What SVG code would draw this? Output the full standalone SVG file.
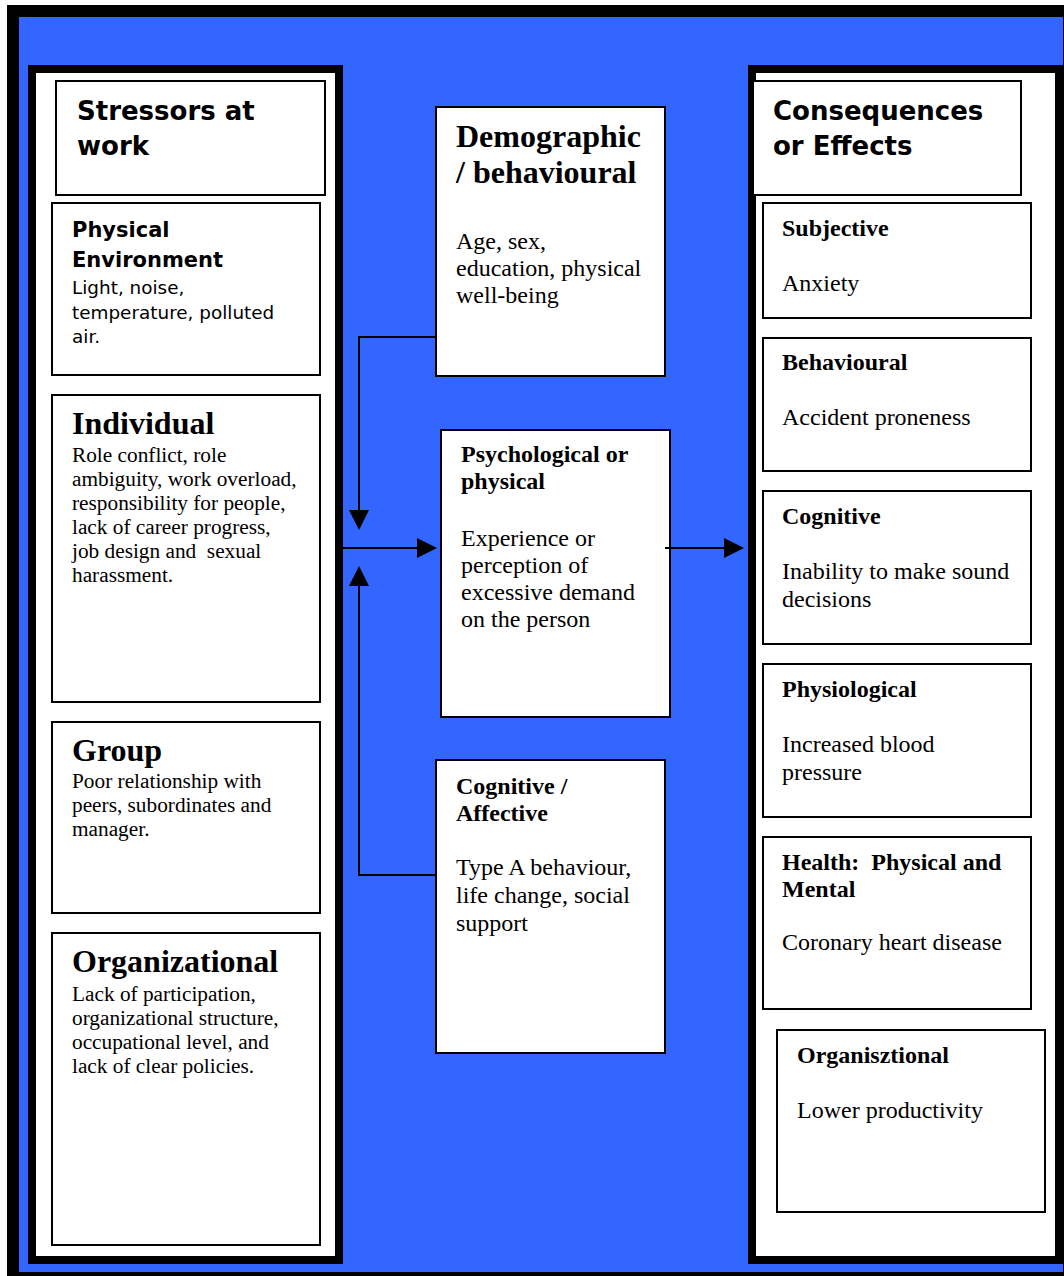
<svg xmlns="http://www.w3.org/2000/svg" width="1064" height="1276" viewBox="0 0 1064 1276">
<style>
.panel{fill:#fff;stroke:#000;stroke-width:8}
.box{fill:#fff;stroke:#000;stroke-width:2}
.sh{font-family:"DejaVu Sans",Verdana,sans-serif;font-weight:bold;font-size:26px;fill:#000}
.sh2{font-family:"DejaVu Sans",Verdana,sans-serif;font-weight:bold;font-size:21px;fill:#000}
.sb{font-family:"DejaVu Sans",Verdana,sans-serif;font-size:18.4px;fill:#000}
.h32{font-family:"Liberation Serif","Times New Roman",serif;font-weight:bold;font-size:32px;fill:#000}
.h24{font-family:"Liberation Serif","Times New Roman",serif;font-weight:bold;font-size:24px;fill:#000}
.b21{font-family:"Liberation Serif","Times New Roman",serif;font-size:21.3px;fill:#000}
.b24{font-family:"Liberation Serif","Times New Roman",serif;font-size:24px;fill:#000}
.conn{fill:none;stroke:#000;stroke-width:2}
</style>
<defs>
<marker id="arr" viewBox="0 0 20 20" refX="18" refY="10" markerWidth="20" markerHeight="20" markerUnits="userSpaceOnUse" orient="auto">
<path d="M0,0 L20,10 L0,20 z" fill="#000"/>
</marker>
</defs>
<rect x="7" y="5" width="1060" height="1275" fill="#000"/>
<rect x="19" y="17" width="1044" height="1255" fill="#3366FF"/>
<g id="left-panel">
<rect class="panel" x="32" y="69" width="307" height="1191"/>
</g>
<g id="right-panel">
<rect class="panel" x="752" y="69" width="307" height="1191"/>
</g>
<g id="stressors">
<rect class="box" x="56" y="81" width="269" height="114"/>
<text class="sh" x="77" y="120">Stressors at</text>
<text class="sh" x="77" y="155">work</text>
</g>
<g id="physical-environment">
<rect class="box" x="52" y="203" width="268" height="172"/>
<text class="sh2" x="72" y="237">Physical</text>
<text class="sh2" x="72" y="267">Environment</text>
<text class="sb" x="72" y="294">Light, noise,</text>
<text class="sb" x="72" y="319">temperature, polluted</text>
<text class="sb" x="72" y="343">air.</text>
</g>
<g id="individual">
<rect class="box" x="52" y="395" width="268" height="307"/>
<text class="h32" x="72" y="434">Individual</text>
<text class="b21" x="72" y="462">Role conflict, role</text>
<text class="b21" x="72" y="486">ambiguity, work overload,</text>
<text class="b21" x="72" y="510">responsibility for people,</text>
<text class="b21" x="72" y="534">lack of career progress,</text>
<text class="b21" x="72" y="558">job design and&#160; sexual</text>
<text class="b21" x="72" y="582">harassment.</text>
</g>
<g id="group">
<rect class="box" x="52" y="722" width="268" height="191"/>
<text class="h32" x="72" y="761">Group</text>
<text class="b21" x="72" y="788">Poor relationship with</text>
<text class="b21" x="72" y="812">peers, subordinates and</text>
<text class="b21" x="72" y="836">manager.</text>
</g>
<g id="organizational">
<rect class="box" x="52" y="933" width="268" height="312"/>
<text class="h32" x="72" y="972">Organizational</text>
<text class="b21" x="72" y="1001">Lack of participation,</text>
<text class="b21" x="72" y="1025">organizational structure,</text>
<text class="b21" x="72" y="1049">occupational level, and</text>
<text class="b21" x="72" y="1073">lack of clear policies.</text>
</g>
<g id="demographic">
<rect class="box" x="436" y="107" width="229" height="269"/>
<text class="h32" x="456" y="147">Demographic</text>
<text class="h32" x="456" y="183">/ behavioural</text>
<text class="b24" x="456" y="249">Age, sex,</text>
<text class="b24" x="456" y="276">education, physical</text>
<text class="b24" x="456" y="303">well-being</text>
</g>
<g id="psychological">
<rect class="box" x="441" y="430" width="229" height="287"/>
<text class="h24" x="461" y="462">Psychological or</text>
<text class="h24" x="461" y="489">physical</text>
<text class="b24" x="461" y="546">Experience or</text>
<text class="b24" x="461" y="573">perception of</text>
<text class="b24" x="461" y="600">excessive demand</text>
<text class="b24" x="461" y="627">on the person</text>
</g>
<g id="cognitive-affective">
<rect class="box" x="436" y="760" width="229" height="293"/>
<text class="h24" x="456" y="794">Cognitive /</text>
<text class="h24" x="456" y="821">Affective</text>
<text class="b24" x="456" y="875">Type A behaviour,</text>
<text class="b24" x="456" y="903">life change, social</text>
<text class="b24" x="456" y="931">support</text>
</g>
<g id="consequences">
<rect class="box" x="753" y="81" width="268" height="114"/>
<text class="sh" x="773" y="120">Consequences</text>
<text class="sh" x="773" y="155">or Effects</text>
</g>
<g id="subjective">
<rect class="box" x="763" y="203" width="268" height="115"/>
<text class="h24" x="782" y="236">Subjective</text>
<text class="b24" x="782" y="291">Anxiety</text>
</g>
<g id="behavioural">
<rect class="box" x="763" y="338" width="268" height="133"/>
<text class="h24" x="782" y="370">Behavioural</text>
<text class="b24" x="782" y="425">Accident proneness</text>
</g>
<g id="cognitive">
<rect class="box" x="763" y="491" width="268" height="153"/>
<text class="h24" x="782" y="524">Cognitive</text>
<text class="b24" x="782" y="579">Inability to make sound</text>
<text class="b24" x="782" y="607">decisions</text>
</g>
<g id="physiological">
<rect class="box" x="763" y="664" width="268" height="153"/>
<text class="h24" x="782" y="697">Physiological</text>
<text class="b24" x="782" y="752">Increased blood</text>
<text class="b24" x="782" y="780">pressure</text>
</g>
<g id="health">
<rect class="box" x="763" y="837" width="268" height="172"/>
<text class="h24" x="782" y="870">Health:&#160; Physical and</text>
<text class="h24" x="782" y="897">Mental</text>
<text class="b24" x="782" y="950">Coronary heart disease</text>
</g>
<g id="organisztional">
<rect class="box" x="777" y="1030" width="268" height="182"/>
<text class="h24" x="797" y="1063">Organisztional</text>
<text class="b24" x="797" y="1118">Lower productivity</text>
</g>
<g id="connectors">
<path class="conn" d="M435,337 H359 V528" marker-end="url(#arr)"/>
<path class="conn" d="M343,548 H435" marker-end="url(#arr)"/>
<path class="conn" d="M435,875 H359 V568" marker-end="url(#arr)"/>
<path class="conn" d="M665,548 H742" marker-end="url(#arr)"/>
</g>
</svg>
